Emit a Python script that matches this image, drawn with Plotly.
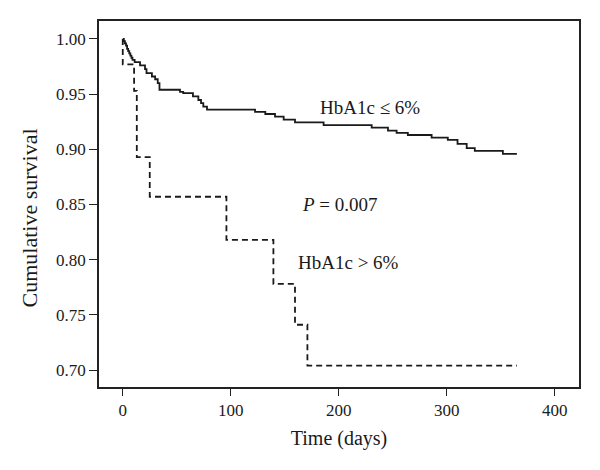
import plotly.graph_objects as go

# Kaplan-Meier curves
low_days = [0, 1, 2, 3, 4, 5, 6, 7, 8, 9, 11, 16, 20.6, 22, 27, 30, 32.4, 34,
            53, 56, 65, 70, 72.5, 74.6, 78, 122.5, 132, 141, 149, 159.5, 186,
            230.5, 245.6, 253.6, 264, 286, 301, 310, 318.5, 326, 352, 365]
low_surv = [1.0, 0.998, 0.996, 0.994, 0.991, 0.989, 0.987, 0.985, 0.983, 0.981, 0.979,
            0.976, 0.9726, 0.969, 0.966, 0.9635, 0.960, 0.954,
            0.952, 0.951, 0.948, 0.9447, 0.9418, 0.9387, 0.936, 0.934, 0.932, 0.9296,
            0.927, 0.9245, 0.922, 0.9197, 0.917, 0.915, 0.913, 0.9106, 0.9085,
            0.905, 0.901, 0.8986, 0.8958, 0.8958]

high_days = [0, 0, 10.5, 13, 25, 96, 139.5, 159.5, 171, 365]
high_surv = [1.0, 0.977, 0.953, 0.893, 0.857, 0.818, 0.778, 0.741, 0.704, 0.704]

serif = "Liberation Serif, Times New Roman, serif"

fig = go.Figure()
fig.add_trace(go.Scatter(x=high_days, y=high_surv, mode="lines", line_shape="hv",
                         line=dict(color="#1a1a1a", width=1.8, dash="6px,4px")))
fig.add_trace(go.Scatter(x=low_days, y=low_surv, mode="lines", line_shape="hv",
                         line=dict(color="#1a1a1a", width=1.8)))

fig.add_annotation(x=180.5, y=0.9375, text="HbA1c \u2264 6%", showarrow=False,
                   xanchor="left", yanchor="middle", font=dict(size=19))
fig.add_annotation(x=164, y=0.850, text="<i>P</i> = 0.007", showarrow=False,
                   xanchor="left", yanchor="middle", font=dict(size=19))
fig.add_annotation(x=160.5, y=0.797, text="HbA1c > 6%", showarrow=False,
                   xanchor="left", yanchor="middle", font=dict(size=19))

# y title placed a little below the axis centre, as in the original
fig.add_annotation(xref="paper", yref="paper", x=-0.144, y=0.463,
                   text="Cumulative survival", textangle=-90, showarrow=False,
                   xanchor="center", yanchor="middle", font=dict(size=22))

fig.update_layout(width=600, height=470, showlegend=False,
                  plot_bgcolor="white", paper_bgcolor="white",
                  font=dict(family=serif, color="#1a1a1a", size=17),
                  margin=dict(l=91, r=29, t=13, b=91))
fig.update_xaxes(range=[-22, 422.5], tickvals=[0, 100, 200, 300, 400],
                 showgrid=False, zeroline=False, showline=True, mirror=True,
                 linecolor="#222", linewidth=1.5, ticks="outside", ticklen=7,
                 tickwidth=1.3, tickcolor="#222", automargin=False,
                 title=dict(text="Time (days)", font=dict(size=20), standoff=12))
fig.update_yaxes(range=[0.6846, 1.0163], tickvals=[0.70, 0.75, 0.80, 0.85, 0.90, 0.95, 1.00],
                 tickformat=".2f",
                 showgrid=False, zeroline=False, showline=True, mirror=True,
                 linecolor="#222", linewidth=1.5, ticks="outside", ticklen=8,
                 tickwidth=1.3, tickcolor="#222", automargin=False)

fig.write_html("out.html")
